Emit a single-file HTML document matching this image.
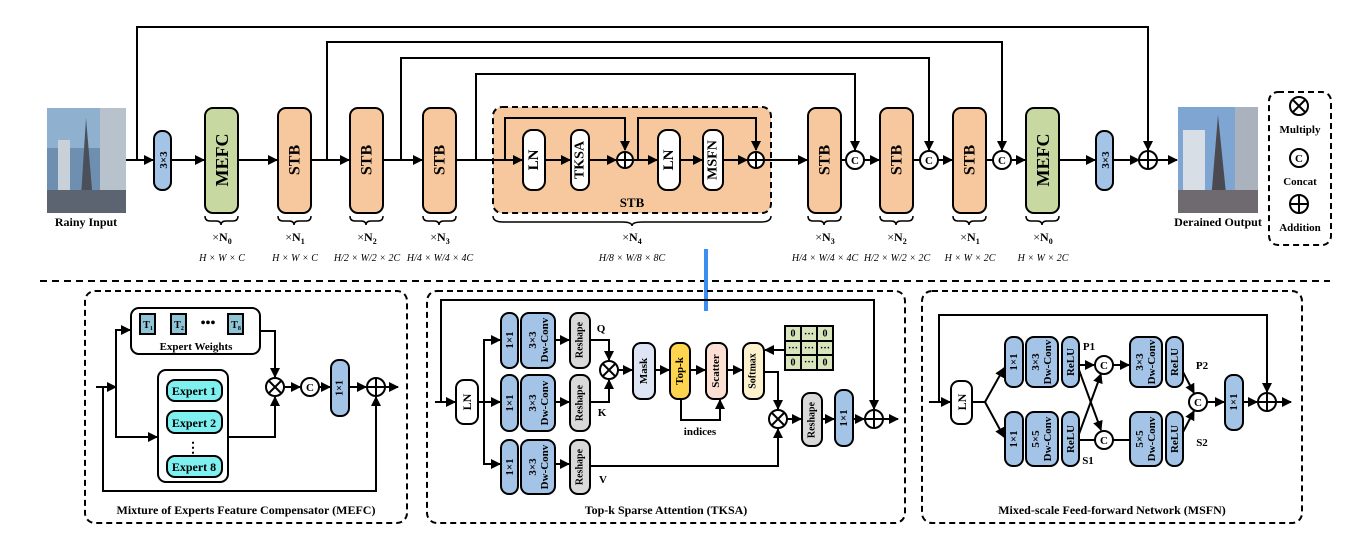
<!DOCTYPE html>
<html><head><meta charset="utf-8"><style>
html,body{margin:0;padding:0;background:#fff;}
svg{display:block;}
text{font-family:"Liberation Serif",serif;font-weight:bold;fill:#000;}
.it{font-style:italic;font-weight:normal;}
</style></head><body>
<svg width="1366" height="538" viewBox="0 0 1366 538" xmlns="http://www.w3.org/2000/svg">
<defs>
<marker id="a" viewBox="0 0 10 10" refX="9" refY="5" markerWidth="5" markerHeight="5" orient="auto"><path d="M0,0 L10,5 L0,10 z" fill="#000"/></marker>
</defs>
<g stroke="#000" stroke-width="2" fill="none">
<!-- skip lines top -->
<polyline points="137,160 137,27 1148,27 1148,150" marker-end="url(#a)"/>
<polyline points="327,160 327,42 1002,42 1002,150" marker-end="url(#a)"/>
<polyline points="401,160 401,58 929,58 929,150" marker-end="url(#a)"/>
<polyline points="476,160 476,74 855,74 855,150" marker-end="url(#a)"/>
<!-- main line arrows -->
<line x1="126" y1="160" x2="153" y2="160" marker-end="url(#a)"/>
<line x1="171" y1="160" x2="204" y2="160" marker-end="url(#a)"/>
<line x1="238" y1="160" x2="277" y2="160" marker-end="url(#a)"/>
<line x1="311" y1="160" x2="349" y2="160" marker-end="url(#a)"/>
<line x1="383" y1="160" x2="422" y2="160" marker-end="url(#a)"/>
<line x1="456" y1="160" x2="493" y2="160"/>
<line x1="771" y1="160" x2="807" y2="160" marker-end="url(#a)"/>
<line x1="841" y1="160" x2="846" y2="160"/>
<line x1="864" y1="160" x2="879" y2="160" marker-end="url(#a)"/>
<line x1="913" y1="160" x2="920" y2="160"/>
<line x1="938" y1="160" x2="952" y2="160" marker-end="url(#a)"/>
<line x1="986" y1="160" x2="993" y2="160"/>
<line x1="1011" y1="160" x2="1025" y2="160" marker-end="url(#a)"/>
<line x1="1059" y1="160" x2="1095" y2="160" marker-end="url(#a)"/>
<line x1="1113" y1="160" x2="1139" y2="160" marker-end="url(#a)"/>
<line x1="1157" y1="160" x2="1177" y2="160" marker-end="url(#a)"/>
</g>
<!-- images -->
<rect x="47" y="108" width="79" height="105" fill="#6f8fb0"/>
<rect x="47" y="108" width="79" height="40" fill="#8fb0cf"/>
<rect x="100" y="108" width="26" height="105" fill="#b8c2cc"/>
<polygon points="86,118 80,213 94,213" fill="#4a4f5a"/>
<rect x="58" y="140" width="12" height="73" fill="#c8d0d8"/>
<rect x="47" y="190" width="79" height="23" fill="#5b6470"/>
<rect x="1178" y="107" width="80" height="106" fill="#7fa6d3"/>
<rect x="1235" y="107" width="23" height="106" fill="#aab3bd"/>
<rect x="1183" y="130" width="22" height="83" fill="#d8dee6"/>
<polygon points="1218,115 1210,213 1228,213" fill="#4b4a50"/>
<rect x="1178" y="190" width="80" height="23" fill="#6e6a70"/>
<text x="86" y="226" font-size="12" text-anchor="middle">Rainy Input</text>
<text x="1218" y="226" font-size="12" text-anchor="middle">Derained Output</text>
<!-- boxes -->
<g stroke="#000" stroke-width="2">
<rect x="154" y="131" width="17" height="59" rx="8" fill="#a3c4e6"/>
<rect x="205" y="108" width="33" height="105" rx="8" fill="#c7d9a0"/>
<rect x="278" y="108" width="33" height="105" rx="8" fill="#f7c89d"/>
<rect x="350" y="108" width="33" height="105" rx="8" fill="#f7c89d"/>
<rect x="423" y="108" width="33" height="105" rx="8" fill="#f7c89d"/>
<rect x="493" y="107" width="278" height="106" rx="9" fill="#f7c89d" stroke-dasharray="6,4"/>
<rect x="808" y="108" width="33" height="105" rx="8" fill="#f7c89d"/>
<rect x="880" y="108" width="33" height="105" rx="8" fill="#f7c89d"/>
<rect x="953" y="108" width="33" height="105" rx="8" fill="#f7c89d"/>
<rect x="1026" y="108" width="33" height="105" rx="8" fill="#c7d9a0"/>
<rect x="1096" y="131" width="17" height="59" rx="8" fill="#a3c4e6"/>
<rect x="1269" y="92" width="62" height="153" rx="9" fill="none" stroke-dasharray="6,4"/>
</g>
<g font-size="16">
<text transform="translate(164,160) rotate(-90)" text-anchor="middle" dominant-baseline="central" font-size="11" font-weight="normal">3×3</text>
<text transform="translate(1106,160) rotate(-90)" text-anchor="middle" dominant-baseline="central" font-size="11" font-weight="normal">3×3</text>
<text transform="translate(222,160) rotate(-90)" text-anchor="middle" dominant-baseline="central" font-size="18">MEFC</text>
<text transform="translate(1043,160) rotate(-90)" text-anchor="middle" dominant-baseline="central" font-size="18">MEFC</text>
<text transform="translate(295,160) rotate(-90)" text-anchor="middle" dominant-baseline="central">STB</text>
<text transform="translate(367,160) rotate(-90)" text-anchor="middle" dominant-baseline="central">STB</text>
<text transform="translate(440,160) rotate(-90)" text-anchor="middle" dominant-baseline="central">STB</text>
<text transform="translate(825,160) rotate(-90)" text-anchor="middle" dominant-baseline="central">STB</text>
<text transform="translate(897,160) rotate(-90)" text-anchor="middle" dominant-baseline="central">STB</text>
<text transform="translate(970,160) rotate(-90)" text-anchor="middle" dominant-baseline="central">STB</text>
</g>
<!-- STB inner -->
<g stroke="#000" stroke-width="2" fill="none">
<polyline points="505,160 505,118 625,118 625,150" marker-end="url(#a)"/>
<polyline points="638,160 638,118 756,118 756,150" marker-end="url(#a)"/>
<line x1="493" y1="160" x2="522" y2="160" marker-end="url(#a)"/>
<line x1="545" y1="160" x2="570" y2="160" marker-end="url(#a)"/>
<line x1="589" y1="160" x2="616" y2="160" marker-end="url(#a)"/>
<line x1="634" y1="160" x2="657" y2="160" marker-end="url(#a)"/>
<line x1="680" y1="160" x2="702" y2="160" marker-end="url(#a)"/>
<line x1="723" y1="160" x2="747" y2="160" marker-end="url(#a)"/>
<line x1="765" y1="160" x2="771" y2="160"/>
</g>
<g stroke="#000" stroke-width="2" fill="#fff">
<rect x="523" y="130" width="22" height="60" rx="9"/>
<rect x="571" y="130" width="18" height="60" rx="8"/>
<rect x="658" y="130" width="22" height="60" rx="9"/>
<rect x="703" y="130" width="20" height="60" rx="8"/>
</g>
<text transform="translate(534,160) rotate(-90)" text-anchor="middle" dominant-baseline="central" font-size="15">LN</text>
<text transform="translate(580,160) rotate(-90)" text-anchor="middle" dominant-baseline="central" font-size="14">TKSA</text>
<text transform="translate(669,160) rotate(-90)" text-anchor="middle" dominant-baseline="central" font-size="15">LN</text>
<text transform="translate(713,160) rotate(-90)" text-anchor="middle" dominant-baseline="central" font-size="14">MSFN</text>
<text x="632" y="207" font-size="13" text-anchor="middle">STB</text>
<!-- circles main -->
<g stroke="#000" stroke-width="2" fill="#fff">
<circle cx="625" cy="160" r="8"/><circle cx="756" cy="160" r="8"/><circle cx="1148" cy="160" r="9"/>
<circle cx="855" cy="160" r="9"/><circle cx="929" cy="160" r="9"/><circle cx="1002" cy="160" r="9"/>
<circle cx="1299" cy="106" r="9"/><circle cx="1299" cy="158" r="9"/><circle cx="1299" cy="204" r="9"/>
</g>
<g stroke="#000" stroke-width="2">
<path d="M617,160h16M625,152v16M748,160h16M756,152v16M1139,160h18M1148,151v18M1290,204h18M1299,195v18M1293,100l12,12M1305,100l-12,12"/>
</g>
<g font-size="11" text-anchor="middle" dominant-baseline="central">
<text x="855" y="161">C</text><text x="929" y="161">C</text><text x="1002" y="161">C</text><text x="1299" y="159">C</text>
</g>
<g font-size="11" text-anchor="middle">
<text x="1300" y="133">Multiply</text><text x="1300" y="185">Concat</text><text x="1300" y="231">Addition</text>
</g>
<!-- braces -->
<g stroke="#000" stroke-width="1.5" fill="none">
<path d="M205,216 q0,5 5,5 h6 q5,0 5,4 q0,-4 5,-4 h7 q5,0 5,-5"/>
<path d="M278,216 q0,5 5,5 h6 q5,0 5,4 q0,-4 5,-4 h7 q5,0 5,-5"/>
<path d="M350,216 q0,5 5,5 h6 q5,0 5,4 q0,-4 5,-4 h7 q5,0 5,-5"/>
<path d="M423,216 q0,5 5,5 h6 q5,0 5,4 q0,-4 5,-4 h7 q5,0 5,-5"/>
<path d="M808,216 q0,5 5,5 h6 q5,0 5,4 q0,-4 5,-4 h7 q5,0 5,-5"/>
<path d="M880,216 q0,5 5,5 h6 q5,0 5,4 q0,-4 5,-4 h7 q5,0 5,-5"/>
<path d="M953,216 q0,5 5,5 h6 q5,0 5,4 q0,-4 5,-4 h7 q5,0 5,-5"/>
<path d="M1026,216 q0,5 5,5 h6 q5,0 5,4 q0,-4 5,-4 h7 q5,0 5,-5"/>
<path d="M493,216 q0,6 10,6 h119 q10,0 10,4 q0,-4 10,-4 h119 q10,0 10,-6"/>
</g>
<g font-size="12" text-anchor="middle">
<text x="222" y="241"><tspan font-weight="normal">×</tspan>N<tspan font-size="8" dy="3">0</tspan></text>
<text x="295" y="241"><tspan font-weight="normal">×</tspan>N<tspan font-size="8" dy="3">1</tspan></text>
<text x="367" y="241"><tspan font-weight="normal">×</tspan>N<tspan font-size="8" dy="3">2</tspan></text>
<text x="440" y="241"><tspan font-weight="normal">×</tspan>N<tspan font-size="8" dy="3">3</tspan></text>
<text x="632" y="241"><tspan font-weight="normal">×</tspan>N<tspan font-size="8" dy="3">4</tspan></text>
<text x="825" y="241"><tspan font-weight="normal">×</tspan>N<tspan font-size="8" dy="3">3</tspan></text>
<text x="897" y="241"><tspan font-weight="normal">×</tspan>N<tspan font-size="8" dy="3">2</tspan></text>
<text x="970" y="241"><tspan font-weight="normal">×</tspan>N<tspan font-size="8" dy="3">1</tspan></text>
<text x="1043" y="241"><tspan font-weight="normal">×</tspan>N<tspan font-size="8" dy="3">0</tspan></text>
</g>
<g font-size="10" text-anchor="middle" class="it">
<text class="it" x="222" y="261">H × W × C</text>
<text class="it" x="295" y="261">H × W × C</text>
<text class="it" x="970" y="261">H × W × 2C</text>
<text class="it" x="1043" y="261">H × W × 2C</text>
<text class="it" x="367" y="261">H/2 × W/2 × 2C</text>
<text class="it" x="440" y="261">H/4 × W/4 × 4C</text>
<text class="it" x="632" y="261">H/8 × W/8 × 8C</text>
<text class="it" x="825" y="261">H/4 × W/4 × 4C</text>
<text class="it" x="897" y="261">H/2 × W/2 × 2C</text>
</g>
<line x1="40" y1="281" x2="1330" y2="281" stroke="#000" stroke-width="2" stroke-dasharray="7,5"/>
<rect x="704" y="249" width="4" height="62" fill="#3b8ff0"/>
<!-- panels -->
<g stroke="#000" stroke-width="2" fill="none" stroke-dasharray="6,4">
<rect x="85" y="291" width="322" height="232" rx="10"/>
<rect x="427" y="291" width="478" height="232" rx="10"/>
<rect x="922" y="291" width="380" height="232" rx="10"/>
</g>
<g font-size="12" text-anchor="middle">
<text x="246" y="514">Mixture of Experts Feature Compensator (MEFC)</text>
<text x="666" y="514">Top-k Sparse Attention (TKSA)</text>
<text x="1112" y="514">Mixed-scale Feed-forward Network (MSFN)</text>
</g>
<!-- MEFC panel -->
<g stroke="#000" stroke-width="2" fill="none">
<line x1="96" y1="387" x2="116" y2="387" marker-end="url(#a)"/>
<polyline points="116,387 116,330 130,330" marker-end="url(#a)"/>
<polyline points="116,387 116,437 157,437" marker-end="url(#a)"/>
<polyline points="103,387 103,491 376,491 376,397" marker-end="url(#a)"/>
<polyline points="260,331 275,331 275,377" marker-end="url(#a)"/>
<polyline points="228,437 275,437 275,397" marker-end="url(#a)"/>
<line x1="284" y1="387" x2="300" y2="387" marker-end="url(#a)"/>
<line x1="319" y1="387" x2="330" y2="387" marker-end="url(#a)"/>
<line x1="349" y1="387" x2="366" y2="387" marker-end="url(#a)"/>
<line x1="385" y1="387" x2="398" y2="387" marker-end="url(#a)"/>
</g>
<g stroke="#000" stroke-width="2">
<rect x="131" y="308" width="129" height="46" rx="8" fill="#fff"/>
<rect x="140" y="314" width="15" height="20" fill="#8fc3d6"/>
<rect x="171" y="314" width="15" height="20" fill="#8fc3d6"/>
<rect x="228" y="314" width="15" height="20" fill="#8fc3d6"/>
<rect x="158" y="370" width="70" height="112" rx="8" fill="#fff"/>
<rect x="167" y="380" width="55" height="21" rx="8" fill="#7ff0f0"/>
<rect x="167" y="411" width="55" height="22" rx="8" fill="#7ff0f0"/>
<rect x="167" y="456" width="55" height="21" rx="8" fill="#7ff0f0"/>
<rect x="331" y="360" width="18" height="56" rx="8" fill="#a3c4e6"/>
<circle cx="275" cy="387" r="9" fill="#fff"/><circle cx="310" cy="387" r="9" fill="#fff"/><circle cx="376" cy="387" r="9" fill="#fff"/>
<path d="M269,381l12,12M281,381l-12,12M367,387h18M376,378v18" fill="none"/>
</g>
<g font-size="10" text-anchor="middle">
<text x="148" y="328">T<tspan font-size="6" dy="2">1</tspan></text>
<text x="179" y="328">T<tspan font-size="6" dy="2">2</tspan></text>
<text x="236" y="328">T<tspan font-size="6" dy="2">8</tspan></text>
<text x="208" y="327" font-size="14">•••</text>
<text x="196" y="350" font-size="11">Expert Weights</text>
<text x="194" y="395" font-size="12">Expert 1</text>
<text x="194" y="427" font-size="12">Expert 2</text>
<text x="194" y="471" font-size="12">Expert 8</text>
<text x="193" y="452" font-size="14">⋮</text>
<text x="310" y="391" font-size="11">C</text>
<text transform="translate(340,388) rotate(-90)" dominant-baseline="central" font-size="10">1×1</text>
</g>
<!-- TKSA panel -->
<g stroke="#000" stroke-width="2" fill="none">
<polyline points="441,402 441,300 874,300 874,409" marker-end="url(#a)"/>
<line x1="435" y1="402" x2="455" y2="402" marker-end="url(#a)"/>
<line x1="478" y1="402" x2="500" y2="402" marker-end="url(#a)"/>
<polyline points="484,402 484,340 500,340" marker-end="url(#a)"/>
<polyline points="484,402 484,464 500,464" marker-end="url(#a)"/>
<line x1="555" y1="340" x2="569" y2="340" marker-end="url(#a)"/>
<line x1="555" y1="402" x2="569" y2="402" marker-end="url(#a)"/>
<line x1="555" y1="464" x2="569" y2="464" marker-end="url(#a)"/>
<polyline points="590,340 609,340 609,360" marker-end="url(#a)"/>
<polyline points="590,402 609,402 609,380" marker-end="url(#a)"/>
<polyline points="590,466 778,466 778,429" marker-end="url(#a)"/>
<line x1="618" y1="370" x2="632" y2="370" marker-end="url(#a)"/>
<line x1="655" y1="370" x2="669" y2="370" marker-end="url(#a)"/>
<line x1="690" y1="370" x2="705" y2="370" marker-end="url(#a)"/>
<line x1="727" y1="370" x2="742" y2="370" marker-end="url(#a)"/>
<polyline points="681,399 681,420 720,420 720,400" marker-end="url(#a)"/>
<line x1="785" y1="350" x2="765" y2="350" marker-end="url(#a)"/>
<polyline points="764,372 778,372 778,409" marker-end="url(#a)"/>
<line x1="787" y1="419" x2="801" y2="419" marker-end="url(#a)"/>
<line x1="822" y1="419" x2="834" y2="419" marker-end="url(#a)"/>
<line x1="853" y1="419" x2="864" y2="419" marker-end="url(#a)"/>
<line x1="883" y1="419" x2="898" y2="419" marker-end="url(#a)"/>
</g>
<g stroke="#000" stroke-width="2">
<rect x="456" y="380" width="22" height="44" rx="8" fill="#fff"/>
<rect x="501" y="313" width="17" height="55" rx="8" fill="#a3c4e6"/>
<rect x="501" y="375" width="17" height="56" rx="8" fill="#a3c4e6"/>
<rect x="501" y="440" width="17" height="54" rx="8" fill="#a3c4e6"/>
<rect x="521" y="313" width="34" height="55" rx="8" fill="#a3c4e6"/>
<rect x="521" y="375" width="34" height="56" rx="8" fill="#a3c4e6"/>
<rect x="521" y="440" width="34" height="54" rx="8" fill="#a3c4e6"/>
<rect x="570" y="313" width="20" height="55" rx="8" fill="#d9d9d9"/>
<rect x="570" y="375" width="20" height="56" rx="8" fill="#d9d9d9"/>
<rect x="570" y="440" width="20" height="54" rx="8" fill="#d9d9d9"/>
<rect x="633" y="343" width="22" height="56" rx="8" fill="#dde5f5"/>
<rect x="670" y="343" width="20" height="56" rx="8" fill="#ffd54f"/>
<rect x="706" y="343" width="21" height="56" rx="8" fill="#fbe0d3"/>
<rect x="743" y="343" width="21" height="56" rx="8" fill="#fdf2cc"/>
<rect x="785" y="326" width="48" height="44" fill="#d8e4bc"/>
<path d="M801,326v44M817,326v44M785,341h48M785,355h48" fill="none"/>
<rect x="802" y="393" width="20" height="53" rx="8" fill="#d9d9d9"/>
<rect x="835" y="390" width="18" height="56" rx="8" fill="#a3c4e6"/>
<circle cx="609" cy="370" r="9" fill="#fff"/><circle cx="778" cy="419" r="9" fill="#fff"/><circle cx="874" cy="419" r="9" fill="#fff"/>
<path d="M603,364l12,12M615,364l-12,12M772,413l12,12M784,413l-12,12M865,419h18M874,410v18" fill="none"/>
</g>
<g font-size="11" text-anchor="middle" dominant-baseline="central">
<text transform="translate(467,402) rotate(-90)" font-size="12">LN</text>
<text transform="translate(510,340) rotate(-90)">1×1</text>
<text transform="translate(510,403) rotate(-90)">1×1</text>
<text transform="translate(510,467) rotate(-90)">1×1</text>
<text transform="translate(533,340) rotate(-90)">3×3</text>
<text transform="translate(545,340) rotate(-90)">Dw-Conv</text>
<text transform="translate(533,403) rotate(-90)">3×3</text>
<text transform="translate(545,403) rotate(-90)">Dw-Conv</text>
<text transform="translate(533,467) rotate(-90)">3×3</text>
<text transform="translate(545,467) rotate(-90)">Dw-Conv</text>
<text transform="translate(580,340) rotate(-90)" font-size="10">Reshape</text>
<text transform="translate(580,403) rotate(-90)" font-size="10">Reshape</text>
<text transform="translate(580,467) rotate(-90)" font-size="10">Reshape</text>
<text transform="translate(644,371) rotate(-90)">Mask</text>
<text transform="translate(680,371) rotate(-90)">Top-k</text>
<text transform="translate(716,371) rotate(-90)">Scatter</text>
<text transform="translate(753,371) rotate(-90)" font-size="10">Softmax</text>
<text transform="translate(812,420) rotate(-90)" font-size="10">Reshape</text>
<text transform="translate(844,418) rotate(-90)">1×1</text>
<text x="601" y="329">Q</text><text x="602" y="413">K</text><text x="603" y="480">V</text>
<text x="700" y="432">indices</text>
<text x="793" y="334" font-size="10">0</text><text x="809" y="332" font-size="10">…</text><text x="825" y="334" font-size="10">0</text>
<text x="793" y="346" font-size="10">…</text><text x="809" y="346" font-size="10">…</text><text x="825" y="346" font-size="10">…</text>
<text x="793" y="363" font-size="10">0</text><text x="809" y="360" font-size="10">…</text><text x="825" y="363" font-size="10">0</text>
</g>
<!-- MSFN panel -->
<g stroke="#000" stroke-width="2" fill="none">
<polyline points="939,402 939,315 1267,315 1267,392" marker-end="url(#a)"/>
<line x1="929" y1="402" x2="950" y2="402" marker-end="url(#a)"/>
<line x1="972" y1="402" x2="985" y2="402"/>
<line x1="985" y1="402" x2="1004" y2="368" marker-end="url(#a)"/>
<line x1="985" y1="402" x2="1004" y2="437" marker-end="url(#a)"/>
<line x1="1079" y1="365" x2="1094" y2="365" marker-end="url(#a)"/>
<line x1="1079" y1="370" x2="1101" y2="430" marker-end="url(#a)"/>
<line x1="1079" y1="440" x2="1095" y2="440"/>
<line x1="1079" y1="434" x2="1101" y2="374" marker-end="url(#a)"/>
<line x1="1113" y1="365" x2="1129" y2="365" marker-end="url(#a)"/>
<line x1="1113" y1="440" x2="1130" y2="440"/>
<line x1="1183" y1="372" x2="1194" y2="393" marker-end="url(#a)"/>
<line x1="1183" y1="432" x2="1194" y2="411" marker-end="url(#a)"/>
<line x1="1207" y1="402" x2="1224" y2="402" marker-end="url(#a)"/>
<line x1="1243" y1="402" x2="1257" y2="402" marker-end="url(#a)"/>
<line x1="1276" y1="402" x2="1291" y2="402" marker-end="url(#a)"/>
</g>
<g stroke="#000" stroke-width="2">
<rect x="951" y="381" width="21" height="43" rx="8" fill="#fff"/>
<rect x="1005" y="337" width="18" height="50" rx="8" fill="#a3c4e6"/>
<rect x="1026" y="337" width="32" height="50" rx="8" fill="#a3c4e6"/>
<rect x="1062" y="337" width="17" height="50" rx="8" fill="#a3c4e6"/>
<rect x="1005" y="412" width="18" height="54" rx="8" fill="#a3c4e6"/>
<rect x="1026" y="412" width="32" height="54" rx="8" fill="#a3c4e6"/>
<rect x="1062" y="412" width="17" height="54" rx="8" fill="#a3c4e6"/>
<rect x="1130" y="337" width="32" height="50" rx="8" fill="#a3c4e6"/>
<rect x="1166" y="337" width="17" height="50" rx="8" fill="#a3c4e6"/>
<rect x="1130" y="412" width="32" height="54" rx="8" fill="#a3c4e6"/>
<rect x="1166" y="412" width="17" height="54" rx="8" fill="#a3c4e6"/>
<rect x="1225" y="375" width="18" height="55" rx="8" fill="#a3c4e6"/>
<circle cx="1104" cy="365" r="9" fill="#fff"/><circle cx="1104" cy="440" r="9" fill="#fff"/><circle cx="1198" cy="402" r="9" fill="#fff"/><circle cx="1267" cy="402" r="9" fill="#fff"/>
<path d="M1258,402h18M1267,393v18" fill="none"/>
</g>
<g font-size="11" text-anchor="middle" dominant-baseline="central">
<text transform="translate(962,402) rotate(-90)" font-size="12">LN</text>
<text transform="translate(1014,362) rotate(-90)">1×1</text>
<text transform="translate(1014,439) rotate(-90)">1×1</text>
<text transform="translate(1036,362) rotate(-90)">3×3</text>
<text transform="translate(1048,362) rotate(-90)">Dw-Conv</text>
<text transform="translate(1036,439) rotate(-90)">5×5</text>
<text transform="translate(1048,439) rotate(-90)">Dw-Conv</text>
<text transform="translate(1140,362) rotate(-90)">3×3</text>
<text transform="translate(1152,362) rotate(-90)">Dw-Conv</text>
<text transform="translate(1140,439) rotate(-90)">5×5</text>
<text transform="translate(1152,439) rotate(-90)">Dw-Conv</text>
<text transform="translate(1071,362) rotate(-90)">ReLU</text>
<text transform="translate(1071,439) rotate(-90)">ReLU</text>
<text transform="translate(1175,362) rotate(-90)">ReLU</text>
<text transform="translate(1175,439) rotate(-90)">ReLU</text>
<text transform="translate(1234,402) rotate(-90)">1×1</text>
<text x="1104" y="366">C</text><text x="1104" y="441">C</text><text x="1198" y="403">C</text>
<text x="1089" y="347">P1</text><text x="1088" y="461">S1</text>
<text x="1202" y="366">P2</text><text x="1202" y="443">S2</text>
</g>
</svg>
</body></html>
